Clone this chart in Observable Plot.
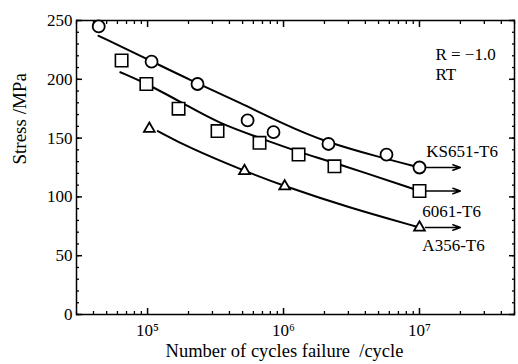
<!DOCTYPE html>
<html><head><meta charset="utf-8">
<script src="https://cdn.jsdelivr.net/npm/d3@7"></script>
<script src="https://cdn.jsdelivr.net/npm/@observablehq/plot@0.6"></script>
<style>
body{margin:0;background:#fff}
#chart svg, #chart svg text, #chart svg g { font-family: "Liberation Serif", "Times New Roman", "DejaVu Serif", serif !important; }
</style>
</head><body><div id="chart"></div>
<script>
// Measured points (cycles to failure, stress MPa)
const ksCycles = [4.37e4, 1.07e5, 2.33e5, 5.44e5, 8.44e5, 2.14e6, 5.72e6, 1.0e7];
const ksStress = [245, 215, 196, 165, 155, 145, 136, 125];
const alCycles = [6.44e4, 9.8e4, 1.69e5, 3.27e5, 6.66e5, 1.29e6, 2.37e6, 1.0e7];
const alStress = [216, 196, 175, 156, 146, 136, 126, 105];
const a3Cycles = [1.03e5, 5.16e5, 1.02e6, 1.0e7];
const a3Stress = [158, 122, 109, 74];
// Fitted curves
const ksFitCycles = [4.36e4, 1.0e5, 2.0e5, 5.0e5, 1.0e6, 2.0e6, 5.0e6, 1.0e7];
const ksFitStress = [237, 217, 200, 179, 162, 147, 134, 125];
const alFitCycles = [6.3e4, 1.0e5, 2.0e5, 3.3e5, 6.7e5, 1.3e6, 2.4e6, 1.0e7];
const alFitStress = [206, 196, 177, 163, 150, 138, 129, 105];
const a3FitCycles = [1.19e5, 2.0e5, 5.16e5, 1.02e6, 3.0e6, 1.0e7];
const a3FitStress = [156, 142, 122, 109, 91, 74];
// Run-out arrows
const runoutFrom = 1.0e7;
const runoutTo = 2.0e7;
const runoutStress = [125, 105, 74];
// Labels
const seriesLabels = ["KS651-T6", "6061-T6", "A356-T6"];
const seriesLabelX = [1.12e7, 1.05e7, 1.05e7];
const seriesLabelY = [138.5, 87.5, 58.5];
const noteLabels = ["R = \u22121.0", "RT"];
const noteX = [1.31e7, 1.31e7];
const noteY = [221, 204];
// Ticks
const yMajor = [0, 50, 100, 150, 200, 250];
const yMinor = d3.range(0, 251, 10);
const xMajor = [1e5, 1e6, 1e7];
const xMinor = [];
for (const dec of [1e4, 1e5, 1e6, 1e7]) for (let m = 2; m <= 9; m++) { const v = m * dec; if (v >= 3e4 && v <= 5e7) xMinor.push(v); }
const sup = {5: "\u2075", 6: "\u2076", 7: "\u2077"};

const FONT = "'Liberation Serif', 'Times New Roman', 'DejaVu Serif', serif";
const tbl = (xs, ys) => xs.map((x, i) => ({x, y: ys[i]}));
const ks = tbl(ksCycles, ksStress), al = tbl(alCycles, alStress), a3 = tbl(a3Cycles, a3Stress);
const ksFit = tbl(ksFitCycles, ksFitStress), alFit = tbl(alFitCycles, alFitStress), a3Fit = tbl(a3FitCycles, a3FitStress);
const runouts = runoutStress.map(s => ({s}));
const sLabels = seriesLabels.map((t, i) => ({t, x: seriesLabelX[i], y: seriesLabelY[i]}));
const nLabels = noteLabels.map((t, i) => ({t, x: noteX[i], y: noteY[i]}));

const lineOpts = {x: "x", y: "y", stroke: "#000", strokeWidth: 2, curve: "basis"};
const chart = Plot.plot({
  width: 518, height: 364,
  marginLeft: 76, marginRight: 4, marginTop: 20, marginBottom: 50,
  style: {fontFamily: FONT, fontSize: "17px", background: "#fff", color: "#000", overflow: "visible"},
  x: {type: "log", domain: [3e4, 5e7]},
  y: {domain: [0, 250]},
  marks: [
    Plot.axisY(yMinor, {anchor: "left", tickSize: -3, fill: "none", strokeWidth: 1.3}),
    Plot.axisY(yMinor, {anchor: "right", tickSize: -3, fill: "none", strokeWidth: 1.3}),
    Plot.axisY(yMajor, {anchor: "left", tickSize: -6, fill: "none", strokeWidth: 1.5}),
    Plot.axisY(yMajor, {anchor: "right", tickSize: -6, fill: "none", strokeWidth: 1.5}),
    Plot.axisY(yMajor, {anchor: "left", tickSize: 0, tickPadding: 4, label: null, fontSize: 17, fontFamily: FONT}),
    Plot.axisX(xMinor, {anchor: "bottom", tickSize: -3, fill: "none", strokeWidth: 1.3}),
    Plot.axisX(xMinor, {anchor: "top", tickSize: -3, fill: "none", strokeWidth: 1.3}),
    Plot.axisX(xMajor, {anchor: "bottom", tickSize: -6, fill: "none", strokeWidth: 1.5}),
    Plot.axisX(xMajor, {anchor: "top", tickSize: -6, fill: "none", strokeWidth: 1.5}),
    Plot.axisX(xMajor, {anchor: "bottom", tickSize: 0, tickPadding: 9, label: null, fontSize: 17, fontFamily: FONT,
      tickFormat: d => "10" + sup[Math.round(Math.log10(d))]}),
    Plot.frame({stroke: "#000", strokeWidth: 1.5}),
    Plot.line(ksFit, lineOpts),
    Plot.line(alFit, lineOpts),
    Plot.line(a3Fit, lineOpts),
    Plot.arrow(runouts, {x1: () => runoutFrom, x2: () => runoutTo, y1: "s", y2: "s",
      stroke: "#000", strokeWidth: 1.5, insetStart: 6, headLength: 8, headAngle: 40}),
    Plot.dot(ks, {x: "x", y: "y", symbol: "circle", r: 6, fill: "#fff", stroke: "#000", strokeWidth: 1.8}),
    Plot.dot(al, {x: "x", y: "y", symbol: "square", r: 7, fill: "#fff", stroke: "#000", strokeWidth: 1.6}),
    Plot.dot(a3, {x: "x", y: "y", symbol: "triangle", r: 4, fill: "#fff", stroke: "#000", strokeWidth: 1.8}),
    Plot.text(sLabels, {x: "x", y: "y", text: "t", textAnchor: "start", fontSize: 17, fontFamily: FONT, fill: "#000"}),
    Plot.text(nLabels, {x: "x", y: "y", text: "t", textAnchor: "start", fontSize: 17, fontFamily: FONT, fill: "#000"}),
    Plot.text(["Stress /MPa"], {frameAnchor: "left", dx: -57, dy: -3, rotate: -90, text: d => d, fontSize: 19, fontFamily: FONT, fill: "#000"}),
    Plot.text(["Number of cycles failure  /cycle"], {frameAnchor: "bottom", dx: -11, dy: 42, text: d => d, fontSize: 18.5, fontFamily: FONT, fill: "#000"})
  ]
});
document.getElementById("chart").append(chart);
</script>
</body></html>
